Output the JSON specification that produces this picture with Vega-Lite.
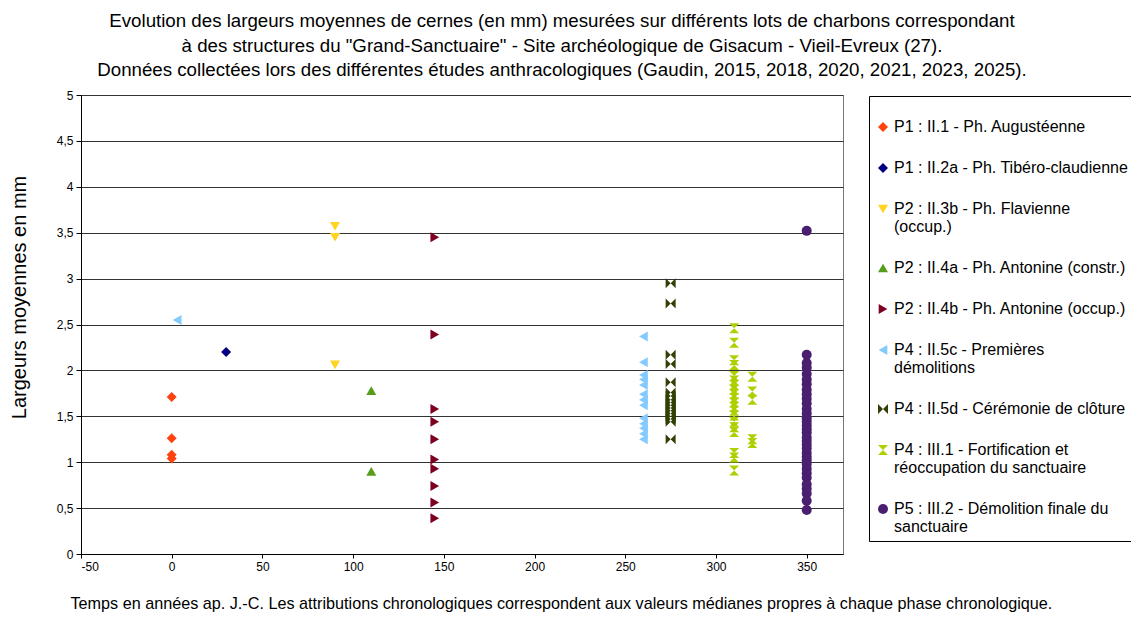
{
  "$schema": "https://vega.github.io/schema/vega-lite/v6.json",
  "autosize": {"type": "none"},
  "padding": {"left": 81, "top": 95, "right": 288, "bottom": 72},
  "width": 762,
  "height": 459,
  "background": "white",
  "config": {
    "font": "Liberation Sans",
    "view": {"stroke": "#777", "strokeWidth": 1}
  },
  "title": {
    "text": [
      "Evolution des largeurs moyennes de cernes (en mm) mesurées sur différents  lots de charbons correspondant",
      "à des structures du \"Grand-Sanctuaire\" - Site archéologique de Gisacum - Vieil-Evreux (27).",
      "Données collectées lors des différentes études anthracologiques (Gaudin, 2015, 2018, 2020, 2021, 2023, 2025)."
    ],
    "font": "Liberation Sans",
    "fontSize": 18.7,
    "fontWeight": "normal",
    "lineHeight": 24.5,
    "color": "#000",
    "anchor": "middle",
    "frame": "group",
    "dx": 100,
    "offset": 9
  },
  "data": {
    "values": [
      {"phase": "P1 : II.1 - Ph. Augustéenne", "annee": 0, "largeur": 1.71},
      {"phase": "P1 : II.1 - Ph. Augustéenne", "annee": 0, "largeur": 1.26},
      {"phase": "P1 : II.1 - Ph. Augustéenne", "annee": 0, "largeur": 1.08},
      {"phase": "P1 : II.1 - Ph. Augustéenne", "annee": 0, "largeur": 1.04},
      {"phase": "P1 : II.2a - Ph. Tibéro-claudienne", "annee": 30, "largeur": 2.2},
      {"phase": "P2 : II.3b - Ph. Flavienne (occup.)", "annee": 90, "largeur": 3.57},
      {"phase": "P2 : II.3b - Ph. Flavienne (occup.)", "annee": 90, "largeur": 3.45},
      {"phase": "P2 : II.3b - Ph. Flavienne (occup.)", "annee": 90, "largeur": 2.06},
      {"phase": "P2 : II.4a - Ph. Antonine (constr.)", "annee": 110, "largeur": 1.78},
      {"phase": "P2 : II.4a - Ph. Antonine (constr.)", "annee": 110, "largeur": 0.9},
      {"phase": "P2 : II.4b - Ph. Antonine (occup.)", "annee": 145, "largeur": 3.45},
      {"phase": "P2 : II.4b - Ph. Antonine (occup.)", "annee": 145, "largeur": 2.39},
      {"phase": "P2 : II.4b - Ph. Antonine (occup.)", "annee": 145, "largeur": 1.58},
      {"phase": "P2 : II.4b - Ph. Antonine (occup.)", "annee": 145, "largeur": 1.44},
      {"phase": "P2 : II.4b - Ph. Antonine (occup.)", "annee": 145, "largeur": 1.25},
      {"phase": "P2 : II.4b - Ph. Antonine (occup.)", "annee": 145, "largeur": 1.03},
      {"phase": "P2 : II.4b - Ph. Antonine (occup.)", "annee": 145, "largeur": 0.93},
      {"phase": "P2 : II.4b - Ph. Antonine (occup.)", "annee": 145, "largeur": 0.74},
      {"phase": "P2 : II.4b - Ph. Antonine (occup.)", "annee": 145, "largeur": 0.56},
      {"phase": "P2 : II.4b - Ph. Antonine (occup.)", "annee": 145, "largeur": 0.39},
      {"phase": "P4 : II.5c - Premières démolitions", "annee": 3, "largeur": 2.55},
      {"phase": "P4 : II.5c - Premières démolitions", "annee": 260, "largeur": 2.37},
      {"phase": "P4 : II.5c - Premières démolitions", "annee": 260, "largeur": 2.09},
      {"phase": "P4 : II.5c - Premières démolitions", "annee": 260, "largeur": 1.95},
      {"phase": "P4 : II.5c - Premières démolitions", "annee": 260, "largeur": 1.9},
      {"phase": "P4 : II.5c - Premières démolitions", "annee": 260, "largeur": 1.84},
      {"phase": "P4 : II.5c - Premières démolitions", "annee": 260, "largeur": 1.74},
      {"phase": "P4 : II.5c - Premières démolitions", "annee": 260, "largeur": 1.68},
      {"phase": "P4 : II.5c - Premières démolitions", "annee": 260, "largeur": 1.62},
      {"phase": "P4 : II.5c - Premières démolitions", "annee": 260, "largeur": 1.48},
      {"phase": "P4 : II.5c - Premières démolitions", "annee": 260, "largeur": 1.42},
      {"phase": "P4 : II.5c - Premières démolitions", "annee": 260, "largeur": 1.37},
      {"phase": "P4 : II.5c - Premières démolitions", "annee": 260, "largeur": 1.31},
      {"phase": "P4 : II.5c - Premières démolitions", "annee": 260, "largeur": 1.25},
      {"phase": "P4 : II.5d - Cérémonie de clôture", "annee": 275, "largeur": 2.95},
      {"phase": "P4 : II.5d - Cérémonie de clôture", "annee": 275, "largeur": 2.73},
      {"phase": "P4 : II.5d - Cérémonie de clôture", "annee": 275, "largeur": 2.17},
      {"phase": "P4 : II.5d - Cérémonie de clôture", "annee": 275, "largeur": 2.07},
      {"phase": "P4 : II.5d - Cérémonie de clôture", "annee": 275, "largeur": 1.87},
      {"phase": "P4 : II.5d - Cérémonie de clôture", "annee": 275, "largeur": 1.76},
      {"phase": "P4 : II.5d - Cérémonie de clôture", "annee": 275, "largeur": 1.72},
      {"phase": "P4 : II.5d - Cérémonie de clôture", "annee": 275, "largeur": 1.68},
      {"phase": "P4 : II.5d - Cérémonie de clôture", "annee": 275, "largeur": 1.65},
      {"phase": "P4 : II.5d - Cérémonie de clôture", "annee": 275, "largeur": 1.62},
      {"phase": "P4 : II.5d - Cérémonie de clôture", "annee": 275, "largeur": 1.59},
      {"phase": "P4 : II.5d - Cérémonie de clôture", "annee": 275, "largeur": 1.56},
      {"phase": "P4 : II.5d - Cérémonie de clôture", "annee": 275, "largeur": 1.53},
      {"phase": "P4 : II.5d - Cérémonie de clôture", "annee": 275, "largeur": 1.5},
      {"phase": "P4 : II.5d - Cérémonie de clôture", "annee": 275, "largeur": 1.47},
      {"phase": "P4 : II.5d - Cérémonie de clôture", "annee": 275, "largeur": 1.44},
      {"phase": "P4 : II.5d - Cérémonie de clôture", "annee": 275, "largeur": 1.25},
      {"phase": "P4 : III.1 - Fortification et réoccupation du sanctuaire", "annee": 310, "largeur": 2.46},
      {"phase": "P4 : III.1 - Fortification et réoccupation du sanctuaire", "annee": 310, "largeur": 2.3},
      {"phase": "P4 : III.1 - Fortification et réoccupation du sanctuaire", "annee": 310, "largeur": 2.11},
      {"phase": "P4 : III.1 - Fortification et réoccupation du sanctuaire", "annee": 310, "largeur": 2.06},
      {"phase": "P4 : III.1 - Fortification et réoccupation du sanctuaire", "annee": 310, "largeur": 1.94},
      {"phase": "P4 : III.1 - Fortification et réoccupation du sanctuaire", "annee": 310, "largeur": 1.89},
      {"phase": "P4 : III.1 - Fortification et réoccupation du sanctuaire", "annee": 310, "largeur": 1.84},
      {"phase": "P4 : III.1 - Fortification et réoccupation du sanctuaire", "annee": 310, "largeur": 1.79},
      {"phase": "P4 : III.1 - Fortification et réoccupation du sanctuaire", "annee": 310, "largeur": 1.74},
      {"phase": "P4 : III.1 - Fortification et réoccupation du sanctuaire", "annee": 310, "largeur": 1.7},
      {"phase": "P4 : III.1 - Fortification et réoccupation du sanctuaire", "annee": 310, "largeur": 1.65},
      {"phase": "P4 : III.1 - Fortification et réoccupation du sanctuaire", "annee": 310, "largeur": 1.6},
      {"phase": "P4 : III.1 - Fortification et réoccupation du sanctuaire", "annee": 310, "largeur": 1.56},
      {"phase": "P4 : III.1 - Fortification et réoccupation du sanctuaire", "annee": 310, "largeur": 1.51},
      {"phase": "P4 : III.1 - Fortification et réoccupation du sanctuaire", "annee": 310, "largeur": 1.44},
      {"phase": "P4 : III.1 - Fortification et réoccupation du sanctuaire", "annee": 310, "largeur": 1.38},
      {"phase": "P4 : III.1 - Fortification et réoccupation du sanctuaire", "annee": 310, "largeur": 1.33},
      {"phase": "P4 : III.1 - Fortification et réoccupation du sanctuaire", "annee": 310, "largeur": 1.1},
      {"phase": "P4 : III.1 - Fortification et réoccupation du sanctuaire", "annee": 310, "largeur": 1.05},
      {"phase": "P4 : III.1 - Fortification et réoccupation du sanctuaire", "annee": 310, "largeur": 0.91},
      {"phase": "P4 : III.1 - Fortification et réoccupation du sanctuaire", "annee": 320, "largeur": 1.93},
      {"phase": "P4 : III.1 - Fortification et réoccupation du sanctuaire", "annee": 320, "largeur": 1.77},
      {"phase": "P4 : III.1 - Fortification et réoccupation du sanctuaire", "annee": 320, "largeur": 1.68},
      {"phase": "P4 : III.1 - Fortification et réoccupation du sanctuaire", "annee": 320, "largeur": 1.25},
      {"phase": "P4 : III.1 - Fortification et réoccupation du sanctuaire", "annee": 320, "largeur": 1.21},
      {"phase": "P5 : III.2 - Démolition finale du sanctuaire", "annee": 350, "largeur": 3.52},
      {"phase": "P5 : III.2 - Démolition finale du sanctuaire", "annee": 350, "largeur": 2.17},
      {"phase": "P5 : III.2 - Démolition finale du sanctuaire", "annee": 350, "largeur": 2.08},
      {"phase": "P5 : III.2 - Démolition finale du sanctuaire", "annee": 350, "largeur": 2.03},
      {"phase": "P5 : III.2 - Démolition finale du sanctuaire", "annee": 350, "largeur": 1.96},
      {"phase": "P5 : III.2 - Démolition finale du sanctuaire", "annee": 350, "largeur": 1.9},
      {"phase": "P5 : III.2 - Démolition finale du sanctuaire", "annee": 350, "largeur": 1.85},
      {"phase": "P5 : III.2 - Démolition finale du sanctuaire", "annee": 350, "largeur": 1.79},
      {"phase": "P5 : III.2 - Démolition finale du sanctuaire", "annee": 350, "largeur": 1.74},
      {"phase": "P5 : III.2 - Démolition finale du sanctuaire", "annee": 350, "largeur": 1.69},
      {"phase": "P5 : III.2 - Démolition finale du sanctuaire", "annee": 350, "largeur": 1.64},
      {"phase": "P5 : III.2 - Démolition finale du sanctuaire", "annee": 350, "largeur": 1.58},
      {"phase": "P5 : III.2 - Démolition finale du sanctuaire", "annee": 350, "largeur": 1.53},
      {"phase": "P5 : III.2 - Démolition finale du sanctuaire", "annee": 350, "largeur": 1.48},
      {"phase": "P5 : III.2 - Démolition finale du sanctuaire", "annee": 350, "largeur": 1.44},
      {"phase": "P5 : III.2 - Démolition finale du sanctuaire", "annee": 350, "largeur": 1.4},
      {"phase": "P5 : III.2 - Démolition finale du sanctuaire", "annee": 350, "largeur": 1.36},
      {"phase": "P5 : III.2 - Démolition finale du sanctuaire", "annee": 350, "largeur": 1.32},
      {"phase": "P5 : III.2 - Démolition finale du sanctuaire", "annee": 350, "largeur": 1.27},
      {"phase": "P5 : III.2 - Démolition finale du sanctuaire", "annee": 350, "largeur": 1.23},
      {"phase": "P5 : III.2 - Démolition finale du sanctuaire", "annee": 350, "largeur": 1.19},
      {"phase": "P5 : III.2 - Démolition finale du sanctuaire", "annee": 350, "largeur": 1.15},
      {"phase": "P5 : III.2 - Démolition finale du sanctuaire", "annee": 350, "largeur": 1.1},
      {"phase": "P5 : III.2 - Démolition finale du sanctuaire", "annee": 350, "largeur": 1.06},
      {"phase": "P5 : III.2 - Démolition finale du sanctuaire", "annee": 350, "largeur": 1.02},
      {"phase": "P5 : III.2 - Démolition finale du sanctuaire", "annee": 350, "largeur": 0.98},
      {"phase": "P5 : III.2 - Démolition finale du sanctuaire", "annee": 350, "largeur": 0.93},
      {"phase": "P5 : III.2 - Démolition finale du sanctuaire", "annee": 350, "largeur": 0.88},
      {"phase": "P5 : III.2 - Démolition finale du sanctuaire", "annee": 350, "largeur": 0.83},
      {"phase": "P5 : III.2 - Démolition finale du sanctuaire", "annee": 350, "largeur": 0.76},
      {"phase": "P5 : III.2 - Démolition finale du sanctuaire", "annee": 350, "largeur": 0.71},
      {"phase": "P5 : III.2 - Démolition finale du sanctuaire", "annee": 350, "largeur": 0.66},
      {"phase": "P5 : III.2 - Démolition finale du sanctuaire", "annee": 350, "largeur": 0.58},
      {"phase": "P5 : III.2 - Démolition finale du sanctuaire", "annee": 350, "largeur": 0.48}
    ]
  },
  "mark": {"type": "point", "filled": true, "opacity": 1, "size": 100, "strokeWidth": 0},
  "encoding": {
    "x": {
      "field": "annee",
      "type": "quantitative",
      "scale": {"domain": [-50, 370], "nice": false, "zero": false},
      "axis": {
        "values": [-50, 0, 50, 100, 150, 200, 250, 300, 350],
        "labelExpr": "replace(datum.label, '−', '-')",
        "grid": false,
        "title": "Temps en années ap. J.-C. Les attributions chronologiques correspondent aux valeurs médianes propres à chaque phase chronologique.",
        "titleFont": "Liberation Sans",
        "titleFontSize": 16.2,
        "titleFontWeight": "normal",
        "titleColor": "#000",
        "titleAnchor": "start",
        "titleAlign": "left",
        "titleBaseline": "middle",
        "titleX": -11,
        "titleY": 49,
        "labelFont": "Liberation Sans",
        "labelFontSize": 12,
        "labelColor": "#000",
        "labelPadding": 3,
        "domainColor": "#000",
        "tickColor": "#000",
        "tickSize": 4
      }
    },
    "y": {
      "field": "largeur",
      "type": "quantitative",
      "scale": {"domain": [0, 5], "nice": false},
      "axis": {
        "values": [0, 0.5, 1, 1.5, 2, 2.5, 3, 3.5, 4, 4.5, 5],
        "format": "~g",
        "labelExpr": "replace(datum.label, '.', ',')",
        "grid": true,
        "gridColor": "#333",
        "gridWidth": 1,
        "title": "Largeurs moyennes en mm",
        "titleFont": "Liberation Sans",
        "titleFontSize": 20,
        "titleFontWeight": "normal",
        "titleColor": "#000",
        "titleAnchor": "middle",
        "titleBaseline": "middle",
        "titleX": -62,
        "titleY": 202,
        "labelFont": "Liberation Sans",
        "labelFontSize": 12,
        "labelColor": "#000",
        "labelPadding": 3,
        "domainColor": "#000",
        "tickColor": "#000",
        "tickSize": 5
      }
    },
    "color": {
      "field": "phase",
      "type": "nominal",
      "scale": {
        "domain": [
          "P1 : II.1 - Ph. Augustéenne",
          "P1 : II.2a - Ph. Tibéro-claudienne",
          "P2 : II.3b - Ph. Flavienne (occup.)",
          "P2 : II.4a - Ph. Antonine (constr.)",
          "P2 : II.4b - Ph. Antonine (occup.)",
          "P4 : II.5c - Premières démolitions",
          "P4 : II.5d - Cérémonie de clôture",
          "P4 : III.1 - Fortification et réoccupation du sanctuaire",
          "P5 : III.2 - Démolition finale du sanctuaire"
        ],
        "range": ["#FF420E", "#000080", "#FFD320", "#579D1C", "#7E0021", "#83CAFF", "#314004", "#AECF00", "#4B1F6F"]
      },
      "legend": {
        "orient": "none",
        "legendX": 788,
        "legendY": 1,
        "title": " ",
        "titleFontSize": 10,
        "titlePadding": 7,
        "padding": 6,
        "strokeColor": "#000",
        "fillColor": "#fff",
        "labelFont": "Liberation Sans",
        "labelFontSize": 16,
        "labelColor": "#000",
        "labelLimit": 400,
        "labelOffset": 3,
        "rowPadding": 25,
        "symbolSize": 100,
        "symbolStrokeWidth": 0,
        "labelExpr": "split(replace(replace(replace(replace(datum.label, 'Flavienne ', 'Flavienne|'), 'Premières ', 'Premières|'), ' et ', ' et|'), 'finale du ', 'finale du|'), '|')"
      }
    },
    "shape": {
      "field": "phase",
      "type": "nominal",
      "scale": {
        "domain": [
          "P1 : II.1 - Ph. Augustéenne",
          "P1 : II.2a - Ph. Tibéro-claudienne",
          "P2 : II.3b - Ph. Flavienne (occup.)",
          "P2 : II.4a - Ph. Antonine (constr.)",
          "P2 : II.4b - Ph. Antonine (occup.)",
          "P4 : II.5c - Premières démolitions",
          "P4 : II.5d - Cérémonie de clôture",
          "P4 : III.1 - Fortification et réoccupation du sanctuaire",
          "P5 : III.2 - Démolition finale du sanctuaire"
        ],
        "range": ["diamond", "diamond", "triangle-down", "triangle-up", "triangle-right", "triangle-left", "M-1,-1L0,0L-1,1Z M1,-1L0,0L1,1Z", "M-1,-1L1,-1L0,0Z M-1,1L1,1L0,0Z", "circle"]
      }
    }
  }
}
